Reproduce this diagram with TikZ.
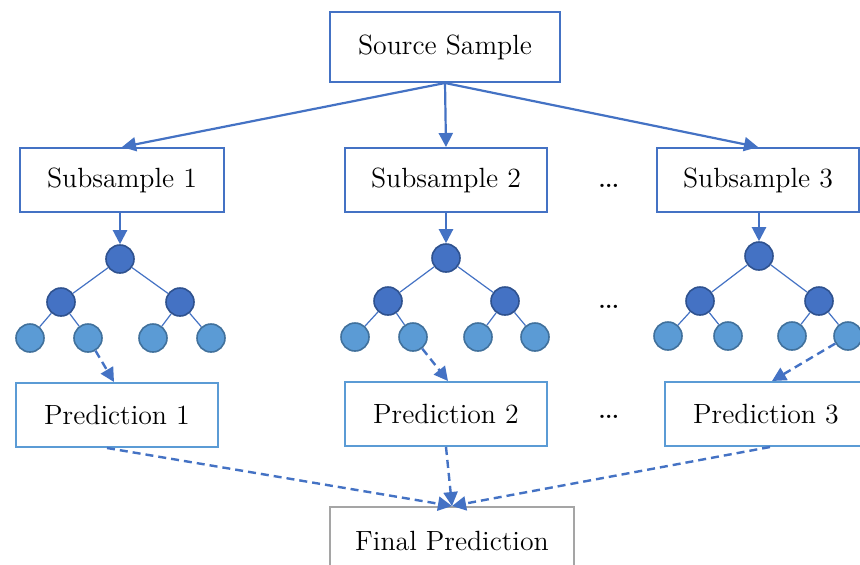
\documentclass[tikz,border=0pt]{standalone}
\usepackage{tikz}
\usetikzlibrary{arrows.meta}
\usetikzlibrary{calc}
\usetikzlibrary{positioning}
\definecolor{boxblue}{HTML}{4472C4}
\definecolor{predblue}{HTML}{5B9BD5}
\definecolor{darkblue}{HTML}{2F528F}
\definecolor{leafline}{HTML}{41719C}
\definecolor{finalgray}{HTML}{A5A5A5}

\begin{document}
\begin{tikzpicture}[x=0.5pt, y=-0.5pt,
    every node/.style={font=\fontsize{13.9}{16}\selectfont},
    bigbox/.style={draw=boxblue, line width=1pt, fill=white, inner sep=0pt},
    predbox/.style={draw=predblue, line width=1pt, fill=white, inner sep=0pt,
        minimum width=101pt, minimum height=32pt},
    innode/.style={circle, draw=darkblue, fill=boxblue, line width=0.8pt,
        minimum size=14pt, inner sep=0pt},
    leaf/.style={circle, draw=leafline, fill=predblue, line width=0.8pt,
        minimum size=14pt, inner sep=0pt},
    etc/.style={anchor=base, font=\fontsize{20}{22}\selectfont},
    branch/.style={draw=boxblue, line width=0.6pt},
    arr/.style={draw=boxblue, line width=1.1pt, -{Triangle[length=7pt,width=7pt]}},
    darr/.style={arr, line width=1.2pt, dash pattern=on 4pt off 2.5pt}]
    \clip (0,0) rectangle (860,564);
    \useasboundingbox (0,0) rectangle (860,564);
    \fill[white] (0,0) rectangle (860,564);
    %% source
    \draw (445, 47) node[bigbox, minimum width=115pt, minimum height=35pt](src){Source Sample} ;
    %% subsamples
    \draw (122, 180) node[bigbox, minimum width=102pt, minimum height=32pt](sub1){Subsample 1} ;
    \draw (446, 180) node[bigbox, minimum width=101pt, minimum height=32pt](sub2){Subsample 2} ;
    \draw (758, 180) node[bigbox, minimum width=101pt, minimum height=32pt](sub3){Subsample 3} ;
    \draw (609, 187) node[etc](dotsA){\dots} ;
    %% -- arrows from the source
    \draw[arr] (src.south) -- (sub1.north) ;
    \draw[arr] (src.south) -- (sub2.north) ;
    \draw[arr] (src.south) -- (sub3.north) ;
    %% trees
    %% -- tree 1
    \draw (120, 259) node[innode](ra){} ;
    \draw (61, 302) node[innode](ma1){} ;
    \draw (180, 302) node[innode](ma2){} ;
    \draw (30, 338) node[leaf](la1){} ;
    \draw (88, 338) node[leaf](la2){} ;
    \draw (153, 338) node[leaf](la3){} ;
    \draw (211, 338) node[leaf](la4){} ;
    %% -- tree 2
    \draw (446, 258) node[innode](rb){} ;
    \draw (388, 301) node[innode](mb1){} ;
    \draw (505, 301) node[innode](mb2){} ;
    \draw (355, 337) node[leaf](lb1){} ;
    \draw (413, 337) node[leaf](lb2){} ;
    \draw (478, 337) node[leaf](lb3){} ;
    \draw (535, 337) node[leaf](lb4){} ;
    %% -- tree 3
    \draw (759, 256) node[innode](rc){} ;
    \draw (700, 301) node[innode](mc1){} ;
    \draw (819, 301) node[innode](mc2){} ;
    \draw (668, 336) node[leaf](lc1){} ;
    \draw (728, 336) node[leaf](lc2){} ;
    \draw (792, 336) node[leaf](lc3){} ;
    \draw (848, 336) node[leaf](lc4){} ;
    \draw (609, 308) node[etc](dotsB){\dots} ;
    %% -- branches
    \draw[branch] (ra) -- (ma1) (ra) -- (ma2) ;
    \draw[branch] (ma1) -- (la1) (ma1) -- (la2) (ma2) -- (la3) (ma2) -- (la4) ;
    \draw[branch] (rb) -- (mb1) (rb) -- (mb2) ;
    \draw[branch] (mb1) -- (lb1) (mb1) -- (lb2) (mb2) -- (lb3) (mb2) -- (lb4) ;
    \draw[branch] (rc) -- (mc1) (rc) -- (mc2) ;
    \draw[branch] (mc1) -- (lc1) (mc1) -- (lc2) (mc2) -- (lc3) (mc2) -- (lc4) ;
    %% -- arrows into the trees
    \draw[arr] (ra |- sub1.south) -- (ra) ;
    \draw[arr] (rb |- sub2.south) -- (rb) ;
    \draw[arr] (rc |- sub3.south) -- (rc) ;
    %% predictions
    \draw (117, 415) node[predbox](pred1){Prediction 1} ;
    \draw (446, 414) node[predbox](pred2){Prediction 2} ;
    \draw (766, 414) node[predbox](pred3){Prediction 3} ;
    \draw (609, 418) node[etc](dotsC){\dots} ;
    %% -- dashed arrows from the leaves
    \draw[darr] (la2) -- ($(pred1.north)+(-3,0)$) ;
    \draw[darr] (lb2) -- ($(pred2.north)+(2,0)$) ;
    \draw[darr] (lc4) -- ($(pred3.north)+(6,0)$) ;
    %% final prediction
    \draw (452, 541) node[draw=finalgray, line width=1pt, fill=white, inner sep=0pt,
        minimum width=122pt, minimum height=34pt](final){Final Prediction} ;
    %% -- dashed arrows to the final prediction
    \draw[darr] ($(pred1.south)+(-10,0)$) -- (final.north) ;
    \draw[darr] (pred2.south) -- (final.north) ;
    \draw[darr] ($(pred3.south)+(4,0)$) -- (final.north) ;
\end{tikzpicture}
\end{document}
